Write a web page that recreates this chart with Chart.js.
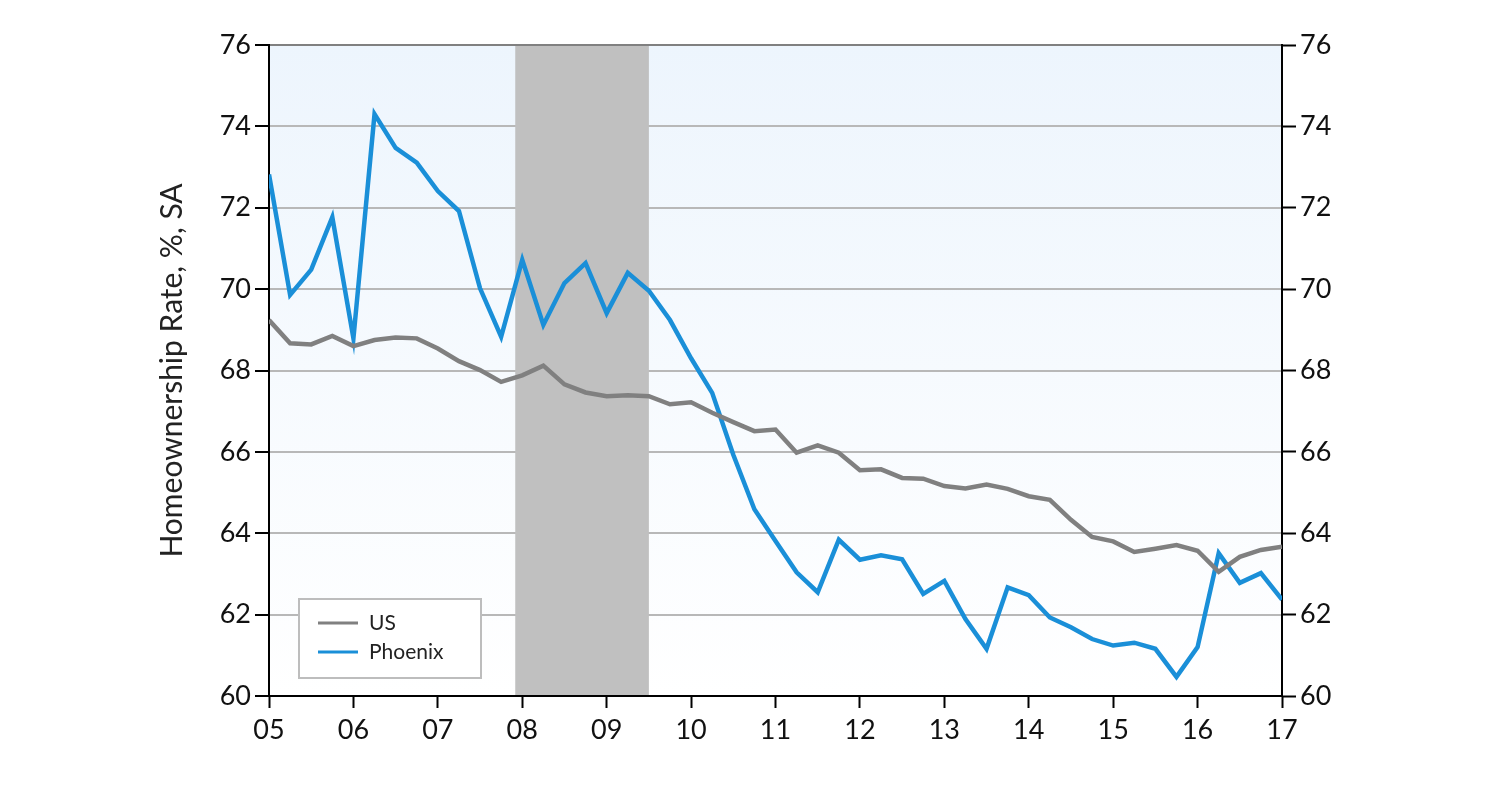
<!DOCTYPE html>
<html>
<head>
<meta charset="utf-8">
<script src="https://cdn.jsdelivr.net/npm/chart.js@4.4.1/dist/chart.umd.min.js"></script>
<style>
  html, body { margin: 0; padding: 0; background: #fff; }
  #wrap { width: 1500px; height: 785px; }
</style>
</head>
<body>
<div id="wrap"><canvas id="homeChart" width="1500" height="785"></canvas></div>
<script>
// quarterly observations, 2005Q1 .. 2017Q1
const quarters = [
  '2005Q1','2005Q2','2005Q3','2005Q4','2006Q1','2006Q2','2006Q3','2006Q4',
  '2007Q1','2007Q2','2007Q3','2007Q4','2008Q1','2008Q2','2008Q3','2008Q4',
  '2009Q1','2009Q2','2009Q3','2009Q4','2010Q1','2010Q2','2010Q3','2010Q4',
  '2011Q1','2011Q2','2011Q3','2011Q4','2012Q1','2012Q2','2012Q3','2012Q4',
  '2013Q1','2013Q2','2013Q3','2013Q4','2014Q1','2014Q2','2014Q3','2014Q4',
  '2015Q1','2015Q2','2015Q3','2015Q4','2016Q1','2016Q2','2016Q3','2016Q4',
  '2017Q1'
];

const usRate = [
  69.24, 68.67, 68.64, 68.85, 68.60, 68.75, 68.81, 68.79,
  68.54, 68.23, 68.01, 67.72, 67.88, 68.12, 67.66, 67.46,
  67.37, 67.39, 67.37, 67.17, 67.22, 66.96, 66.73, 66.51,
  66.55, 65.98, 66.16, 65.98, 65.55, 65.57, 65.36, 65.34,
  65.16, 65.10, 65.20, 65.09, 64.91, 64.82, 64.33, 63.91,
  63.80, 63.54, 63.62, 63.71, 63.57, 63.05, 63.42, 63.59,
  63.67
];

const phoenixRate = [
  72.82, 69.86, 70.48, 71.77, 68.79, 74.30, 73.47, 73.11,
  72.41, 71.92, 70.02, 68.83, 70.72, 69.12, 70.15, 70.64,
  69.41, 70.40, 69.96, 69.24, 68.30, 67.45, 65.93, 64.59,
  63.81, 63.04, 62.55, 63.84, 63.35, 63.46, 63.36, 62.51,
  62.83, 61.89, 61.16, 62.67, 62.48, 61.93, 61.69, 61.40,
  61.24, 61.31, 61.16, 60.47, 61.20, 63.51, 62.78, 63.02,
  62.37
];

const yTicks = [60, 62, 64, 66, 68, 70, 72, 74, 76];
const recession = [2007.917, 2009.5]; // Dec 2007 - Jun 2009

function quarterToYear(q) {
  return parseInt(q.slice(0, 4)) + (parseInt(q.slice(5)) - 1) / 4;
}

const xs = quarters.map(quarterToYear);
const toPoints = arr => arr.map((v, i) => ({ x: xs[i], y: v }));

const FONT = 'Lato, "DejaVu Sans", sans-serif';

const backgroundPlugin = {
  id: 'plotBackground',
  beforeDraw(chart) {
    const { ctx, chartArea: a } = chart;
    const g = ctx.createLinearGradient(0, a.top, 0, a.bottom);
    g.addColorStop(0, '#edf5fd');
    g.addColorStop(1, '#ffffff');
    ctx.save();
    ctx.fillStyle = g;
    ctx.fillRect(a.left, a.top, a.right - a.left, a.bottom - a.top);
    ctx.restore();
  }
};

const recessionPlugin = {
  id: 'recession',
  beforeDatasetsDraw(chart) {
    const { ctx, chartArea: a, scales } = chart;
    const x0 = scales.x.getPixelForValue(recession[0]);
    const x1 = scales.x.getPixelForValue(recession[1]);
    ctx.save();
    ctx.fillStyle = '#c0c0c0';
    ctx.fillRect(x0, a.top + 1, x1 - x0, a.bottom - a.top - 2);
    ctx.restore();
  }
};

const legendPlugin = {
  id: 'boxLegend',
  afterDatasetsDraw(chart) {
    const { ctx, chartArea: a } = chart;
    const bx = a.left + 30, by = a.bottom - 97, bw = 182, bh = 79;
    ctx.save();
    ctx.fillStyle = '#ffffff';
    ctx.fillRect(bx, by, bw, bh);
    ctx.strokeStyle = '#bdbdbd';
    ctx.lineWidth = 2;
    ctx.strokeRect(bx, by, bw, bh);
    ctx.font = '21px ' + FONT;
    ctx.textBaseline = 'middle';
    chart.data.datasets.forEach((ds, i) => {
      const y = by + 24 + i * 29;
      ctx.strokeStyle = ds.borderColor;
      ctx.lineWidth = 3;
      ctx.beginPath();
      ctx.moveTo(bx + 19, y);
      ctx.lineTo(bx + 59, y);
      ctx.stroke();
      ctx.fillStyle = '#222';
      ctx.fillText(ds.label, bx + 70, y);
    });
    ctx.restore();
  }
};

new Chart(document.getElementById('homeChart'), {
  type: 'line',
  data: {
    datasets: [
      {
        label: 'US',
        data: toPoints(usRate),
        borderColor: '#808080',
        borderWidth: 4.5,
        pointRadius: 0,
        tension: 0,
        yAxisID: 'y'
      },
      {
        label: 'Phoenix',
        data: toPoints(phoenixRate),
        borderColor: '#1a8fd8',
        borderWidth: 4.5,
        pointRadius: 0,
        tension: 0,
        yAxisID: 'y'
      }
    ]
  },
  plugins: [backgroundPlugin, recessionPlugin, legendPlugin],
  options: {
    responsive: false,
    animation: false,
    layout: { padding: { top: 45, left: 0, right: 0, bottom: 0 } },
    plugins: {
      legend: { display: false },
      tooltip: { enabled: false }
    },
    scales: {
      x: {
        type: 'linear',
        min: 2005,
        max: 2017,
        afterBuildTicks(scale) {
          scale.ticks = [];
          for (let yr = 2005; yr <= 2017; yr++) scale.ticks.push({ value: yr });
        },
        afterFit(scale) { scale.height = 89; },
        ticks: {
          color: '#111',
          font: { family: FONT, size: 27 },
          padding: 6,
          maxRotation: 0,
          callback: v => String(v % 100).padStart(2, '0')
        },
        grid: {
          drawOnChartArea: false,
          tickLength: 12,
          tickColor: '#000',
          tickWidth: 2
        },
        border: { color: '#000', width: 2 }
      },
      y: {
        position: 'left',
        min: 60,
        max: 76,
        afterBuildTicks(scale) { scale.ticks = yTicks.map(v => ({ value: v })); },
        afterFit(scale) { scale.width = 269; },
        ticks: {
          color: '#111',
          font: { family: FONT, size: 27 },
          padding: 4
        },
        grid: {
          color: ctx => (ctx.tick && ctx.tick.value === 76 ? '#808080' : '#b8b8b8'),
          lineWidth: 2,
          tickLength: 14,
          tickColor: '#000',
          tickWidth: 2
        },
        border: { color: '#000', width: 2 },
        title: {
          display: true,
          text: 'Homeownership Rate, %, SA',
          color: '#222',
          font: { family: FONT, size: 30 },
          padding: { top: 154, bottom: 0 }
        }
      },
      y2: {
        position: 'right',
        min: 60,
        max: 76,
        afterBuildTicks(scale) { scale.ticks = yTicks.map(v => ({ value: v })); },
        afterFit(scale) { scale.width = 218; },
        ticks: {
          color: '#111',
          font: { family: FONT, size: 27 },
          padding: 4
        },
        grid: {
          drawOnChartArea: false,
          tickLength: 14,
          tickColor: '#000',
          tickWidth: 2
        },
        border: { color: '#000', width: 2 }
      }
    }
  }
});
</script>
</body>
</html>
